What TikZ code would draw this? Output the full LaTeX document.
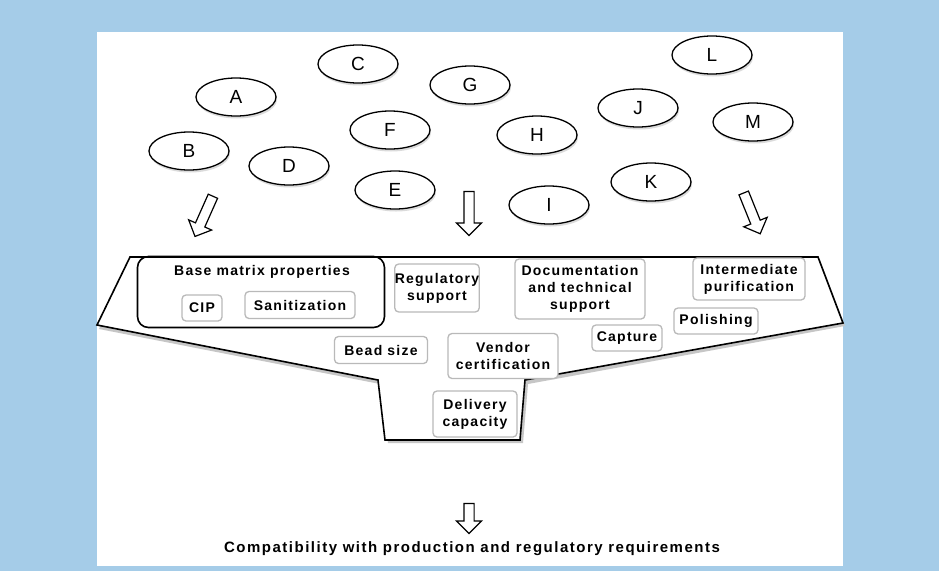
\documentclass[tikz,border=0pt]{standalone}
\usepackage{fontspec}
\setmainfont{Liberation Sans}
\newfontfamily\widefont[LetterSpace=9]{Liberation Sans Bold}
\newfontfamily\botfont[LetterSpace=10]{Liberation Sans Bold}
\usetikzlibrary{shapes.geometric,shapes.arrows,shadows}
\definecolor{bgblue}{RGB}{165,204,232}
\begin{document}
\begin{tikzpicture}[x=1pt,y=-1pt,
  ell/.style={ellipse, draw, line width=1.3pt, minimum width=80pt, minimum height=38pt,
    fill=white, inner sep=0pt, font=\fontsize{19}{19}\selectfont,
    drop shadow={shadow xshift=1pt,shadow yshift=-2.5pt,fill=gray!55}},
  gbox/.style={draw=gray!55, line width=1.3pt, rounded corners=4pt, fill=white,
    align=center, inner sep=0pt, font=\widefont\fontsize{14}{17}\selectfont},
  harrow/.style={single arrow, draw, line width=1.2pt, fill=white, minimum height=44pt,
    single arrow head extend=7.5pt, single arrow head indent=0pt, inner ysep=4.5pt,
    inner xsep=0pt, text height=0pt, text depth=0pt},
  funnelline/.style={line width=1.6pt, line join=miter}
]
\fill[bgblue] (0,0) rectangle (939,571);
\fill[white] (97,32) rectangle (843,566);
\useasboundingbox (0,0) rectangle (939,571);

% ellipses
\node[ell] (A) at (236,97) {A};
\node[ell] (C) at (358,64) {C};
\node[ell] (G) at (470,85) {G};
\node[ell] (L) at (712,55) {L};
\node[ell] (J) at (638,108) {J};
\node[ell] (M) at (753,122) {M};
\node[ell] (B) at (189,151) {B};
\node[ell] (D) at (289,166) {D};
\node[ell] (F) at (390,130) {F};
\node[ell] (H) at (537,135) {H};
\node[ell] (E) at (395,190) {E};
\node[ell] (I) at (549,205) {I};
\node[ell] (K) at (651,182) {K};

% arrows
\node[harrow, rotate=-114] (arL) at (205,214) {};
\node[harrow, rotate=-90] (arM) at (469,211) {};
\node[harrow, rotate=-68] (arR) at (751,211) {};

% funnel
\fill[gray!45] (132,260) -- (820,260) -- (845,326) -- (528,384) -- (523,443)
  -- (388,443) -- (380,384) -- (99,329) -- cycle;
\draw[funnelline, fill=white] (130,257) coordinate (f1) -- (818,257) coordinate (f2)
  -- (843,323) coordinate (f3) -- (525,380) coordinate (f4) -- (520,440) coordinate (f5)
  -- (385,440) coordinate (f6) -- (378,380) coordinate (f7) -- (97,325) coordinate (f8) -- cycle;

% base matrix group
\node[draw, line width=1.6pt, rounded corners=11pt, minimum width=247pt, minimum height=71pt]
  (base) at (261,292) {};
\node[font=\widefont\fontsize{14}{17}\selectfont] (basel) at (262,272) {Base matrix properties};
\node[gbox, minimum width=40pt, minimum height=26pt] (cip) at (202,308) {CIP};
\node[gbox, minimum width=110pt, minimum height=27pt] (sanit) at (300,305) {Sanitization};

\node[gbox, minimum width=80pt, minimum height=48pt] (reg) at (437,288) {Regulatory\\support};
\node[gbox, minimum width=130pt, minimum height=60pt] (doc) at (580,289) {Documentation\\and technical\\support};
\node[gbox, minimum width=112pt, minimum height=42pt] (inter) at (749,279) {Intermediate\\purification};
\node[gbox, minimum width=84pt, minimum height=26pt] (pol) at (716,321) {Polishing};
\node[gbox, minimum width=70pt, minimum height=26pt] (cap) at (627,338) {Capture};
\node[gbox, minimum width=93pt, minimum height=27pt] (bead) at (381,350) {Bead size};
\node[gbox, minimum width=110pt, minimum height=45pt] (vend) at (503,356) {Vendor\\certification};
\node[gbox, minimum width=84pt, minimum height=46pt] (deliv) at (475,414) {Delivery\\capacity};

% bottom
\node[harrow, rotate=-90, minimum height=30pt] (arB) at (469,516) {};
\node[font=\botfont\fontsize{15}{17}\selectfont] (res) at (472,549)
  {Compatibility with production and regulatory requirements};
\end{tikzpicture}
\end{document}
